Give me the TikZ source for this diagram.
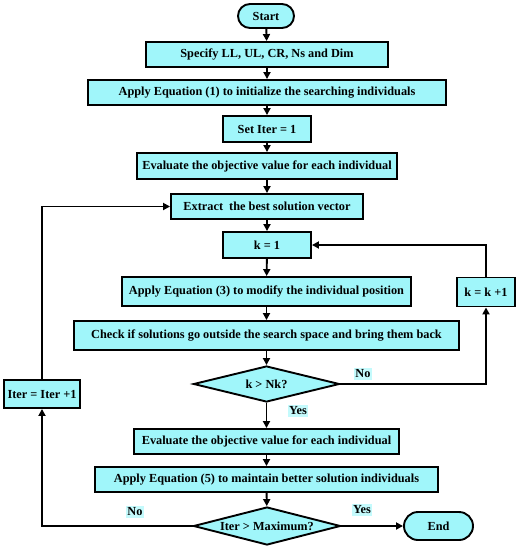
\documentclass[tikz,border=0pt]{standalone}
\usepackage{fontspec}
\setmainfont{Liberation Serif}
\usepackage{xcolor}
\usepackage{tikz}
\usetikzlibrary{arrows.meta}
\usetikzlibrary{shapes.geometric}

\definecolor{boxcyan}{RGB}{160,246,250}
\definecolor{lblcyan}{RGB}{196,250,252}

\tikzset{
  procbox/.style={draw, line width=1.9pt, fill=boxcyan, inner sep=0pt,
    font=\fontsize{12.3}{14}\selectfont\bfseries, minimum height=#1},
  procbox/.default=25pt,
  termbox/.style={draw, line width=1.9pt, fill=boxcyan, inner sep=0pt,
    rounded corners=12pt, minimum height=25pt, font=\fontsize{12.3}{14}\selectfont\bfseries},
  decbox/.style={draw, diamond, aspect=4, line width=1.9pt, fill=boxcyan, inner sep=0pt,
    minimum height=37pt, minimum width=147pt, font=\fontsize{12.3}{14}\selectfont\bfseries},
  lbl/.style={fill=lblcyan, inner sep=1.5pt, font=\fontsize{12.3}{14}\selectfont\bfseries},
  flow/.style={line width=1.9pt, -{Triangle[length=7pt,width=7pt]}}
}

\begin{document}
\begin{tikzpicture}[x=1pt,y=-1pt]
\useasboundingbox (0,0) rectangle (519,550);
% main column
\node[termbox, minimum width=56pt, minimum height=24pt] (start) at (266,16) {Start};
\node[procbox, minimum width=242pt] (spec) at (267,54.5) {Specify LL, UL, CR, Ns and Dim};
\node[procbox, minimum width=358pt] (init) at (267,92.5) {Apply Equation (1) to initialize the searching individuals};
\node[procbox=26pt, minimum width=88pt] (setiter) at (267,129) {Set Iter = 1};
\node[procbox=26pt, minimum width=260pt] (eval) at (267,166) {Evaluate the objective value for each individual};
\node[procbox, minimum width=192pt] (best) at (267,206.5) {Extract\ \ the best solution vector};
\node[procbox=26pt, minimum width=88pt] (kone) at (267,245) {k = 1};
\node[procbox=29pt, minimum width=289pt] (modify) at (266.5,291.5) {Apply Equation (3) to modify the individual position};
\node[procbox=29pt, minimum width=385pt] (check) at (266.5,335.5) {Check if solutions go outside the search space and bring them back};
\node[decbox, minimum height=36pt, minimum width=146pt] (knk) at (266.5,384) {k > Nk?};
\node[procbox, minimum width=265pt] (evaltwo) at (266.5,441.5) {Evaluate the objective value for each individual};
\node[procbox, minimum width=343pt] (keep) at (266.5,479.5) {Apply Equation (5) to maintain better solution individuals};
\node[decbox, minimum height=38pt] (itmax) at (267,526) {Iter > Maximum?};
\node[termbox, minimum width=69pt, minimum height=28pt, rounded corners=14pt] (stop) at (438.5,526) {End};
% side boxes
\node[procbox=29pt, minimum width=58pt] (kinc) at (486,292) {k = k +1};
\node[procbox=28pt, minimum width=76pt] (iterinc) at (42,394) {Iter = Iter +1};
% labels
\node[lbl] (knkno) at (363,374) {No};
\node[lbl] (knkyes) at (298,411) {Yes};
\node[lbl] (itno) at (135,512) {No};
\node[lbl] (ityes) at (362,510) {Yes};
% arrows
\draw[flow] (start) -- (spec);
\draw[flow] (spec) -- (init);
\draw[flow] (init) -- (setiter);
\draw[flow] (setiter) -- (eval);
\draw[flow] (eval) -- (best);
\draw[flow] (best) -- (kone);
\draw[flow] (kone) -- (modify);
\draw[flow] (modify) -- (check);
\draw[flow] (check) -- (knk);
\draw[flow] (knk) -- (evaltwo);
\draw[flow] (evaltwo) -- (keep);
\draw[flow] (keep) -- (itmax);
\draw[flow] (itmax) -- (stop);
\draw[flow] (knk.east) -| (kinc.south);
\draw[flow] (kinc.north) |- (kone.east);
\draw[flow] (itmax.west) -| (iterinc.south);
\draw[flow] (iterinc.north) |- (best.west);
\end{tikzpicture}
\end{document}
